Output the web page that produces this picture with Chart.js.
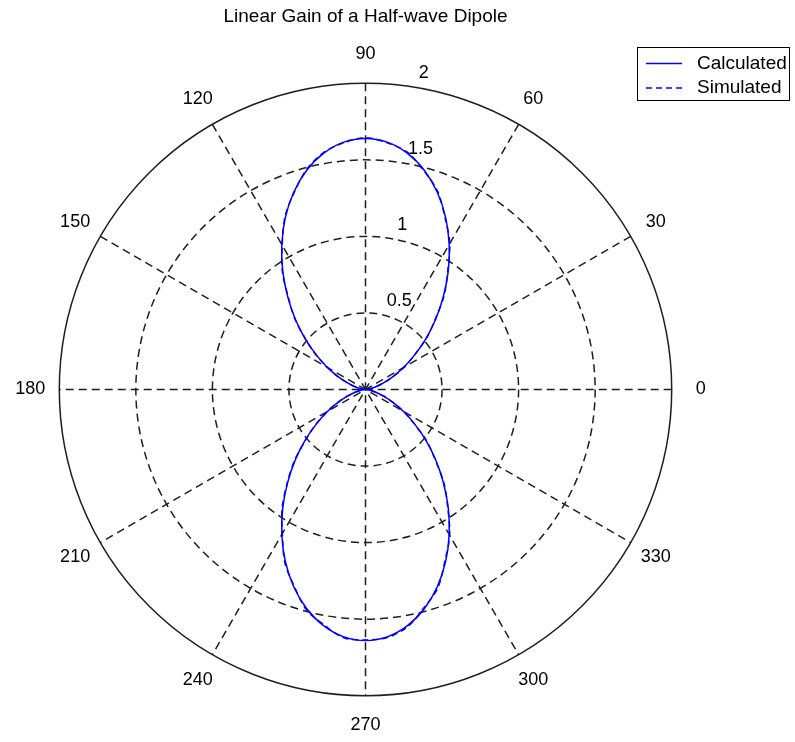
<!DOCTYPE html>
<html>
<head>
<meta charset="utf-8">
<script src="https://cdn.jsdelivr.net/npm/chart.js@4/dist/chart.umd.min.js"></script>
<style>
 body { margin: 0; background: #fff; }
</style>
</head>
<body>
<canvas id="polarChart" width="795" height="742"></canvas>
<script>
// angles in degrees, gain values
let angles = [0, 5, 10, 15, 20, 25, 30, 35, 40, 45, 50, 55, 60, 65, 70, 75, 80, 85,
 90, 95, 100, 105, 110, 115, 120, 125, 130, 135, 140, 145, 150, 155, 160, 165, 170, 175,
 180, 185, 190, 195, 200, 205, 210, 215, 220, 225, 230, 235, 240, 245, 250, 255, 260, 265,
 270, 275, 280, 285, 290, 295, 300, 305, 310, 315, 320, 325, 330, 335, 340, 345, 350, 355];

let calculated = [0, 0.008, 0.031, 0.070, 0.125, 0.198, 0.287, 0.391, 0.514, 0.647, 0.790, 0.942, 1.093, 1.239, 1.371, 1.483, 1.568, 1.622,
 1.640, 1.622, 1.568, 1.483, 1.371, 1.239, 1.093, 0.942, 0.790, 0.647, 0.514, 0.391, 0.287, 0.198, 0.125, 0.070, 0.031, 0.008,
 0, 0.008, 0.031, 0.070, 0.125, 0.198, 0.287, 0.391, 0.514, 0.647, 0.790, 0.942, 1.093, 1.239, 1.371, 1.483, 1.568, 1.622,
 1.640, 1.622, 1.568, 1.483, 1.371, 1.239, 1.093, 0.942, 0.790, 0.647, 0.514, 0.391, 0.287, 0.198, 0.125, 0.070, 0.031, 0.008];

let simulated = [0.010, 0.012, 0.035, 0.068, 0.130, 0.195, 0.292, 0.388, 0.520, 0.641, 0.798, 0.935, 1.101, 1.232, 1.378, 1.477, 1.574, 1.617,
 1.645, 1.618, 1.572, 1.488, 1.366, 1.245, 1.088, 0.948, 0.784, 0.652, 0.509, 0.395, 0.283, 0.201, 0.121, 0.073, 0.029, 0.010,
 0.005, 0.010, 0.033, 0.072, 0.128, 0.202, 0.290, 0.396, 0.508, 0.655, 0.795, 0.950, 1.086, 1.247, 1.365, 1.490, 1.561, 1.628,
 1.636, 1.627, 1.575, 1.476, 1.380, 1.230, 1.100, 0.936, 0.797, 0.640, 0.521, 0.386, 0.293, 0.194, 0.129, 0.067, 0.034, 0.009];

let seriesLabels = ['Calculated', 'Simulated'];
let rTicks = [0.5, 1, 1.5, 2];
let angleTicks = [0, 30, 60, 90, 120, 150, 180, 210, 240, 270, 300, 330];

let rMax = 2;
let fontFamily = '"Liberation Sans", Arial, sans-serif';

function toXY(thetas, rs) {
 let pts = thetas.map((t, i) => {
  let a = t * Math.PI / 180;
  return { x: rs[i] * Math.cos(a), y: rs[i] * Math.sin(a) };
 });
 pts.push(pts[0]);
 return pts;
}

// grid, angle labels, r labels
let polarGrid = {
 id: 'polarGrid',
 beforeDatasetsDraw(chart) {
  let ctx = chart.ctx;
  let xs = chart.scales.x, ys = chart.scales.y;
  let cx = xs.getPixelForValue(0), cy = ys.getPixelForValue(0);
  let unit = xs.getPixelForValue(1) - cx;
  ctx.save();
  ctx.strokeStyle = '#1e1e1e';
  ctx.lineWidth = 1.5;
  ctx.setLineDash([8, 5]);
  rTicks.forEach(r => {
   if (r === rMax) return;
   ctx.beginPath();
   ctx.arc(cx, cy, r * unit, 0, Math.PI * 2);
   ctx.stroke();
  });
  for (let a = 0; a < 180; a += 30) {
   let rad = a * Math.PI / 180;
   ctx.beginPath();
   ctx.moveTo(xs.getPixelForValue(rMax * Math.cos(rad)), ys.getPixelForValue(rMax * Math.sin(rad)));
   ctx.lineTo(xs.getPixelForValue(-rMax * Math.cos(rad)), ys.getPixelForValue(-rMax * Math.sin(rad)));
   ctx.stroke();
  }
  ctx.setLineDash([]);
  ctx.beginPath();
  ctx.arc(cx, cy, rMax * unit, 0, Math.PI * 2);
  ctx.stroke();

  ctx.fillStyle = '#000';
  ctx.font = '18px ' + fontFamily;
  ctx.textAlign = 'center';
  ctx.textBaseline = 'middle';
  angleTicks.forEach(a => {
   let rad = a * Math.PI / 180;
   let rt = 1.095 * rMax;
   ctx.fillText(String(a), xs.getPixelForValue(rt * Math.cos(rad)), ys.getPixelForValue(rt * Math.sin(rad)));
  });

  ctx.textAlign = 'left';
  ctx.textBaseline = 'bottom';
  let r82 = 82 * Math.PI / 180;
  rTicks.forEach(r => {
   let rr = r + 0.025;
   ctx.fillText('  ' + r, xs.getPixelForValue(rr * Math.cos(r82)), ys.getPixelForValue(rr * Math.sin(r82)));
  });
  ctx.restore();
 }
};

let boxLegend = {
 id: 'boxLegend',
 afterDraw(chart) {
  let ctx = chart.ctx;
  ctx.save();
  ctx.fillStyle = '#fff';
  ctx.fillRect(637, 47, 153, 54);
  ctx.strokeStyle = '#000';
  ctx.lineWidth = 1;
  ctx.strokeRect(637.5, 47.5, 152, 53);
  ctx.font = '19px ' + fontFamily;
  ctx.textBaseline = 'middle';
  ctx.textAlign = 'left';
  chart.data.datasets.forEach((ds, i) => {
   let y = 63.5 + i * 24.5;
   ctx.strokeStyle = ds.borderColor;
   ctx.lineWidth = ds.borderWidth;
   ctx.setLineDash(ds.borderDash || []);
   ctx.beginPath();
   ctx.moveTo(646, y);
   ctx.lineTo(682, y);
   ctx.stroke();
   ctx.setLineDash([]);
   ctx.fillStyle = '#000';
   ctx.fillText(ds.label, 697, y);
  });
  ctx.restore();
 }
};

let ctxPolar = document.getElementById('polarChart').getContext('2d');
let polarChart = new Chart(ctxPolar, {
 type: 'scatter',
 data: {
  datasets: [
   {
    label: seriesLabels[0],
    data: toXY(angles, calculated),
    showLine: true,
    borderColor: 'rgb(0, 0, 255)',
    borderWidth: 1.5,
    pointRadius: 0,
    tension: 0.3,
   },
   {
    label: seriesLabels[1],
    data: toXY(angles, simulated),
    showLine: true,
    borderColor: 'rgb(0, 0, 255)',
    borderWidth: 1.5,
    borderDash: [6, 4],
    pointRadius: 0,
    tension: 0.3,
   }
  ]
 },
 options: {
  responsive: false,
  animation: false,
  layout: { padding: { left: 0, right: 64, top: 0, bottom: 0 } },
  plugins: {
   legend: { display: false },
   tooltip: { enabled: false },
   title: {
    display: true,
    text: 'Linear Gain of a Half-wave Dipole',
    color: '#000',
    font: { family: fontFamily, size: 19, weight: 'normal', lineHeight: 1.2 },
    padding: { top: 5.6, bottom: 11.6 },
   }
  },
  scales: {
   x: { type: 'linear', display: false, min: -365.5 / 153.1, max: 365.5 / 153.1 },
   y: { type: 'linear', display: false, min: -352.5 / 153.1, max: 349.5 / 153.1 }
  }
 },
 plugins: [polarGrid, boxLegend]
});
</script>
</body>
</html>
